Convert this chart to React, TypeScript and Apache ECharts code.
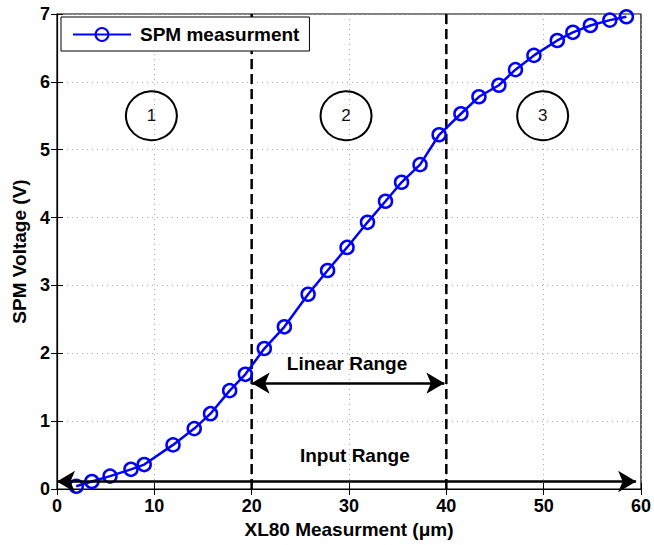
import React, { useEffect, useRef } from "react";
import * as echarts from "echarts";

const xVals = [1.98, 3.58, 5.45, 7.6, 8.96, 11.92, 14.1, 15.77, 17.74, 19.35, 21.3, 23.36, 25.8, 27.8, 29.8, 31.9, 33.75, 35.4, 37.3, 39.26, 41.5, 43.35, 45.4, 47.1, 49.0, 51.4, 53.0, 54.8, 56.8, 58.5];
const yVals = [0.04, 0.11, 0.19, 0.29, 0.36, 0.65, 0.89, 1.11, 1.45, 1.69, 2.07, 2.39, 2.87, 3.22, 3.56, 3.93, 4.24, 4.52, 4.78, 5.22, 5.53, 5.78, 5.95, 6.18, 6.39, 6.61, 6.73, 6.83, 6.91, 6.96];
const regionLabels = ["1", "2", "3"];
const regionX = [9.7, 29.7, 49.9];
const regionY = 5.5;
const boundaries = [20, 40];
const linearRange = { from: 20, to: 39.8, y: 1.56, labelX: 29.8, labelY: 1.85, text: "Linear Range" };
const inputRange = { from: 0, to: 59.5, y: 0.11, labelX: 30.6, labelY: 0.5, text: "Input Range" };
const seriesName = "SPM measurment";
const xName = "XL80 Measurment (\u03bcm)";
const yName = "SPM Voltage (V)";

const FONT = "'Liberation Sans', Arial, Helvetica, sans-serif";

export default function App() {
  const ref = useRef<HTMLDivElement>(null);
  useEffect(() => {
    if (!ref.current) return;
    const chart = echarts.init(ref.current, null, { renderer: "svg" });
    const data = xVals.map((x, i) => [x, yVals[i]]);
    const tickStyle = { show: true, inside: true, length: 6, lineStyle: { color: "#000", width: 1 } };
    const option: any = {
      animation: false,
      backgroundColor: "#fff",
      textStyle: { fontFamily: FONT },
      grid: { left: 57, right: 10, top: 14, bottom: 56, show: true, borderColor: "#000", borderWidth: 1.2, backgroundColor: "transparent" },
      legend: {
        data: [seriesName],
        left: 61,
        top: 17,
        padding: [8, 10, 7, 11],
        itemWidth: 58,
        itemHeight: 16,
        borderColor: "#000",
        borderWidth: 1,
        backgroundColor: "#fff",
        textStyle: { fontFamily: FONT, fontWeight: "bold", fontSize: 19, color: "#000", padding: [0, 0, 0, 4] },
      },
      xAxis: [
        {
          type: "value", min: 0, max: 60, interval: 10,
          name: xName, nameLocation: "middle", nameGap: 30,
          nameTextStyle: { fontFamily: FONT, fontWeight: "bold", fontSize: 19, color: "#000" },
          axisLine: { show: true, onZero: false, lineStyle: { color: "#000", width: 1.2 } },
          axisTick: tickStyle,
          axisLabel: { fontFamily: FONT, fontWeight: "bold", fontSize: 18, color: "#000", margin: 8 },
          splitLine: { show: true, lineStyle: { color: "#aaa", type: [1, 4], width: 1 } },
        },
        {
          type: "value", min: 0, max: 60, interval: 10, position: "top",
          axisLine: { show: false }, axisTick: tickStyle, axisLabel: { show: false }, splitLine: { show: false },
        },
      ],
      yAxis: [
        {
          type: "value", min: 0, max: 7, interval: 1,
          name: yName, nameLocation: "middle", nameGap: 27,
          nameTextStyle: { fontFamily: FONT, fontWeight: "bold", fontSize: 19, color: "#000" },
          axisLine: { show: true, onZero: false, lineStyle: { color: "#000", width: 1.2 } },
          axisTick: tickStyle,
          axisLabel: { fontFamily: FONT, fontWeight: "bold", fontSize: 18, color: "#000", margin: 7 },
          splitLine: { show: true, lineStyle: { color: "#aaa", type: [1, 4], width: 1 } },
        },
        {
          type: "value", min: 0, max: 7, interval: 1, position: "right",
          axisLine: { show: false }, axisTick: tickStyle, axisLabel: { show: false }, splitLine: { show: false },
        },
      ],
      series: [
        ...boundaries.map((b) => ({
          type: "line",
          name: "boundary" + b,
          data: [[b, 0], [b, 7]],
          symbol: "none",
          silent: true,
          z: 1,
          lineStyle: { color: "#000", width: 2.5, type: [10, 5] },
        })),
        {
          type: "scatter",
          name: "regions",
          data: regionX.map((x, i) => ({ value: [x, regionY], label: { formatter: regionLabels[i] } })),
          symbol: "circle",
          symbolSize: [51, 49],
          silent: true,
          z: 2,
          itemStyle: { color: "rgba(255,255,255,0)", borderColor: "#000", borderWidth: 2, opacity: 1 },
          label: { show: true, position: "inside", fontFamily: FONT, fontSize: 17, color: "#111" },
        },
        {
          type: "scatter",
          name: "rangeText",
          data: [
            { value: [linearRange.labelX, linearRange.labelY], label: { formatter: linearRange.text } },
            { value: [inputRange.labelX, inputRange.labelY], label: { formatter: inputRange.text } },
          ],
          symbolSize: 0,
          silent: true,
          z: 3,
          itemStyle: { opacity: 1 },
          label: { show: true, position: "inside", fontFamily: FONT, fontWeight: "bold", fontSize: 19, color: "#000", opacity: 1 },
        },
        {
          type: "line",
          name: "arrows",
          data: [],
          silent: true,
          z: 5,
          markLine: {
            silent: true,
            symbol: ["arrow", "arrow"],
            symbolSize: [16, 18],
            label: { show: false },
            lineStyle: { color: "#000", width: 2.5, type: "solid", opacity: 1 },
            emphasis: { disabled: true },
            data: [
              [{ coord: [linearRange.from, linearRange.y] }, { coord: [linearRange.to, linearRange.y] }],
              [{ coord: [inputRange.from, inputRange.y] }, { coord: [inputRange.to, inputRange.y] }],
            ],
          },
        },
        {
          type: "line",
          name: seriesName,
          data,
          symbol: "circle",
          symbolSize: 13,
          z: 4,
          lineStyle: { color: "#0000ff", width: 2.5 },
          itemStyle: { color: "rgba(255,255,255,0)", borderColor: "#0000ff", borderWidth: 2.5 },
        },
      ],
    };
    chart.setOption(option);
    return () => chart.dispose();
  }, []);
  return <div ref={ref} style={{ position: "fixed", left: 0, top: 0, width: 654, height: 545, background: "#fff" }} />;
}
